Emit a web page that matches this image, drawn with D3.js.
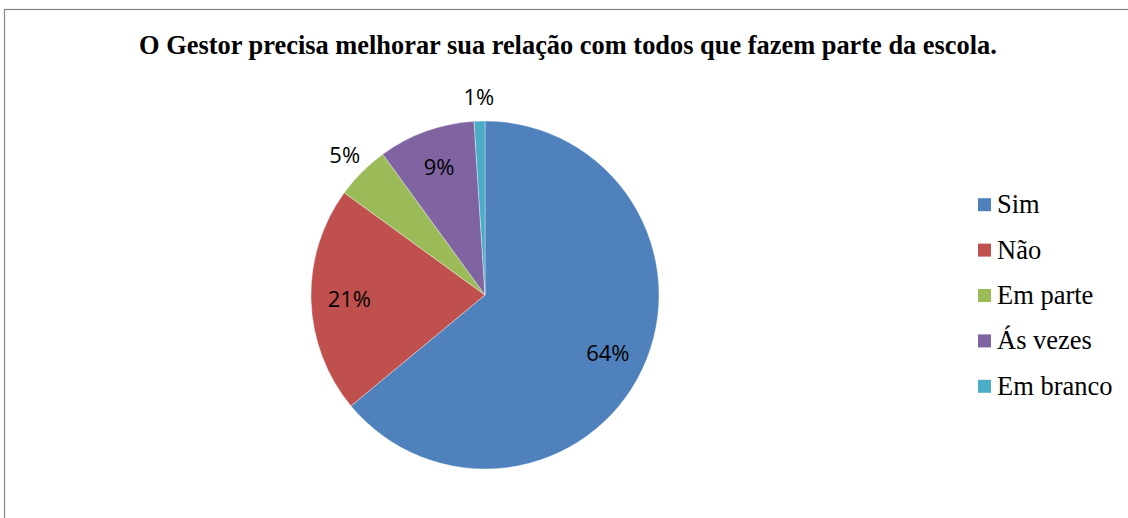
<!DOCTYPE html>
<html>
<head>
<meta charset="utf-8">
<script src="https://cdn.jsdelivr.net/npm/d3@7"></script>
<style>
body { margin: 0; background: #fff; }
.title { font-family: "Liberation Serif", "Times New Roman", serif; font-weight: bold; font-size: 26.4px; }
.legText { font-family: "Liberation Serif", "Times New Roman", serif; font-size: 26.5px; }
.pctText { font-family: "Open Sans", sans-serif; font-size: 22px; }
</style>
</head>
<body>
<svg id="chart"></svg>
<script>
var w = 1128;
var h = 518;

var categories = ["Sim", "Não", "Em parte", "Ás vezes", "Em branco"];
var values = [64, 21, 5, 9, 1];
var colors = ["#4F81BD", "#C0504D", "#9BBB59", "#8064A2", "#4BACC6"];

var cx = 485, cy = 295, radius = 174;

var svg = d3.select("#chart")
    .attr("width", w)
    .attr("height", h);

svg.append("rect")
    .attr("x", 4.5)
    .attr("y", 9.5)
    .attr("width", w + 50)
    .attr("height", h + 50)
    .attr("fill", "#fff")
    .attr("stroke", "#868686")
    .attr("stroke-width", 1.2);

svg.append("text")
    .attr("x", 568)
    .attr("y", 54)
    .attr("text-anchor", "middle")
    .attr("class", "title")
    .text("O Gestor precisa melhorar sua relação com todos que fazem parte da escola.");

var pie = d3.pie().sort(null).value(function(d) { return d; });
var arcs = pie(values);

var arc = d3.arc().innerRadius(0).outerRadius(radius);
var inLabel = d3.arc().innerRadius(radius * 0.78).outerRadius(radius * 0.78);
var outLabel = d3.arc().innerRadius(radius * 1.14).outerRadius(radius * 1.14);

var g = svg.append("g").attr("transform", "translate(" + cx + "," + cy + ")");

g.selectAll("path")
    .data(arcs)
    .enter().append("path")
    .attr("d", arc)
    .attr("fill", function(d, i) { return colors[i]; })
    .attr("stroke", "#fff")
    .attr("stroke-width", 0.6)
    .attr("stroke-opacity", 0.6);

g.selectAll(".pctText")
    .data(arcs)
    .enter().append("text")
    .attr("class", "pctText")
    .attr("transform", function(d) {
        var p = d.data < 6 ? outLabel.centroid(d) : inLabel.centroid(d);
        return "translate(" + p[0] + "," + p[1] + ")";
    })
    .attr("text-anchor", "middle")
    .attr("dy", "0.36em")
    .attr("fill", "#000")
    .text(function(d) { return d.data + "%"; });

var legend = svg.append("g");
var legY = d3.scaleBand().domain(categories).range([182, 409]);

var item = legend.selectAll("g")
    .data(categories)
    .enter().append("g")
    .attr("transform", function(d) { return "translate(978," + (legY(d) + legY.bandwidth() / 2) + ")"; });

item.append("rect")
    .attr("x", 0)
    .attr("y", -6.5)
    .attr("width", 13)
    .attr("height", 13)
    .attr("fill", function(d, i) { return colors[i]; });

item.append("text")
    .attr("x", 19)
    .attr("y", 8.5)
    .attr("class", "legText")
    .text(function(d) { return d; });
</script>
</body>
</html>
